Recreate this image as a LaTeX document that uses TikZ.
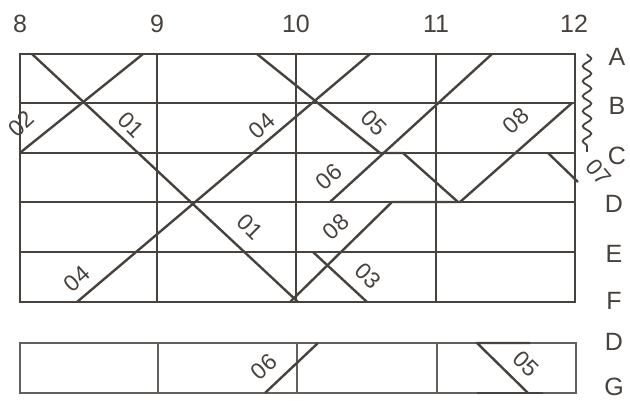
\documentclass[tikz,border=0pt]{standalone}
\usepackage{fontspec}
\setmainfont{Liberation Sans}
\usetikzlibrary{decorations.pathmorphing}
\definecolor{ink}{RGB}{72,66,62}
\definecolor{boxink}{RGB}{100,95,91}
\begin{document}
\begin{tikzpicture}[x=1pt,y=-1pt,
  gridline/.style={draw=ink, line width=2.2pt},
  boxline/.style={draw=boxink, line width=2pt},
  trainline/.style={draw=ink, line width=2.4pt, line join=round},
  axislabel/.style={font=\fontsize{25}{25}\selectfont, text=ink, inner sep=0pt},
  trainlabel/.style={font=\fontsize{23}{23}\selectfont, text=ink, inner sep=0pt},
]
\useasboundingbox[fill=white] (0,0) rectangle (630,401);

% main grid
\draw[gridline] (20,54) rectangle (575,302);
\foreach \yy in {103,153,202,252} \draw[gridline] (20,\yy) -- (575,\yy);
\foreach \xx in {157,296,436} \draw[gridline] (\xx,54) -- (\xx,302);

% lower box
\draw[boxline] (20,343) rectangle (576,393);
\foreach \xx in {158,297,437} \draw[boxline] (\xx,343) -- (\xx,393);

% hour labels
\node[axislabel] (h8)  at (20,24)  {8};
\node[axislabel] (h9)  at (157,24) {9};
\node[axislabel] (h10) at (296,24) {10};
\node[axislabel] (h11) at (436,24) {11};
\node[axislabel] (h12) at (574,24) {12};

% station labels
\node[axislabel] (sA) at (617,57)  {A};
\node[axislabel] (sB) at (617,106) {B};
\node[axislabel] (sC) at (617,156) {C};
\node[axislabel] (sD) at (614,204) {D};
\node[axislabel] (sE) at (614,254) {E};
\node[axislabel] (sF) at (614,301) {F};
\node[axislabel] (sD2) at (614,342) {D};
\node[axislabel] (sG) at (614,387) {G};

% wavy line
\coordinate (w1) at (587,54);
\coordinate (w2) at (587,152);
\draw[ink, line width=1.8pt, decorate, decoration={snake, segment length=15pt, amplitude=4.3pt}] (w1) -- (w2);

% train 01
\coordinate (a1) at (32,54);
\coordinate (a2) at (298,302);
\draw[trainline] (a1) -- (a2);
% train 02
\coordinate (b1) at (143,54);
\coordinate (b2) at (21,152);
\draw[trainline] (b1) -- (b2);
% train 04
\coordinate (d1) at (370,54);
\coordinate (d2) at (77,302);
\draw[trainline] (d1) -- (d2);
% train 05
\coordinate (e1) at (257,54);
\coordinate (e2) at (380,153);
\coordinate (e3) at (403,153);
\coordinate (e4) at (458,202);
\draw[trainline] (e1) -- (e2) -- (e3) -- (e4);
% train 06
\coordinate (f1) at (330,202);
\coordinate (f2) at (492,54);
\draw[trainline] (f1) -- (f2);
% train 08
\coordinate (g1) at (572,103);
\coordinate (g2) at (460,202);
\coordinate (g3) at (392,202);
\coordinate (g4) at (290,302);
\draw[trainline] (g1) -- (g2) -- (g3) -- (g4);
% train 03
\coordinate (c1) at (313,252);
\coordinate (c2) at (367,302);
\draw[trainline] (c1) -- (c2);
% train 07
\coordinate (h1) at (548,153);
\coordinate (h2) at (578,182);
\draw[trainline] (h1) -- (h2);
% lower box 06
\coordinate (f3) at (265,393);
\coordinate (f4) at (318,343);
\draw[trainline] (f3) -- (f4);
% lower box 05
\coordinate (e5) at (530,343);
\coordinate (e6) at (477,343);
\coordinate (e7) at (528,393);
\coordinate (e8) at (477,393);
\coordinate (e9) at (543,393);
\draw[trainline] (e5) -- (e6) -- (e7);
\draw[trainline] (e8) -- (e9);

% train labels
\node[trainlabel, rotate=43]  (l02)  at (21,124)  {02};
\node[trainlabel, rotate=-45] (l01a) at (131,125) {01};
\node[trainlabel, rotate=42]  (l04a) at (262,126) {04};
\node[trainlabel, rotate=-45] (l05a) at (374,123) {05};
\node[trainlabel, rotate=42]  (l08a) at (516,121) {08};
\node[trainlabel, rotate=-50] (l07)  at (599,172) {07};
\node[trainlabel, rotate=42]  (l06a) at (329,177) {06};
\node[trainlabel, rotate=-45] (l01b) at (250,227) {01};
\node[trainlabel, rotate=42]  (l08b) at (336,227) {08};
\node[trainlabel, rotate=-45] (l03)  at (368,276) {03};
\node[trainlabel, rotate=42]  (l04b) at (77,279)  {04};
\node[trainlabel, rotate=42]  (l06b) at (264,367) {06};
\node[trainlabel, rotate=-45] (l05b) at (526,364) {05};
\end{tikzpicture}
\end{document}
